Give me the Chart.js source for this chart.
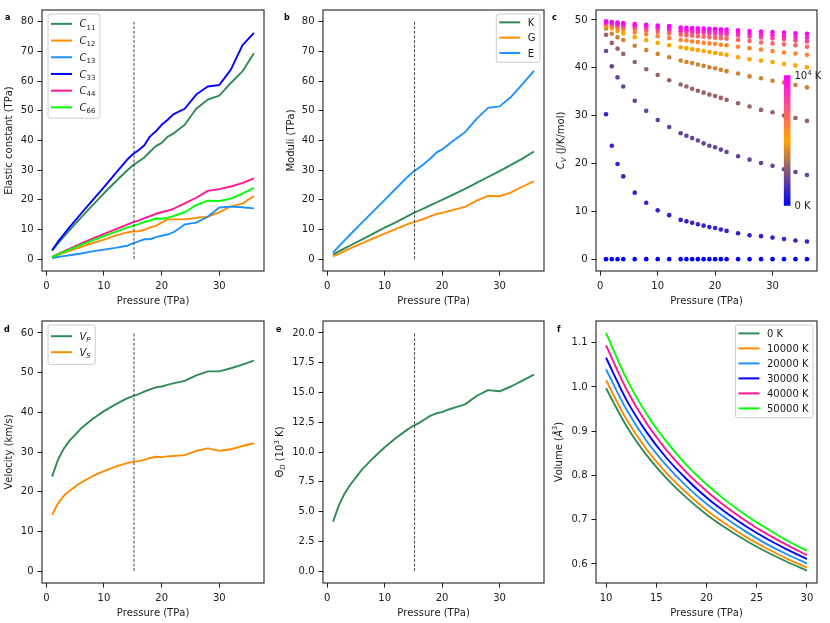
<!DOCTYPE html>
<html>
<head>
<meta charset="utf-8">
<script src="https://cdn.jsdelivr.net/npm/chart.js@4.4.1/dist/chart.umd.min.js"></script>
<style>
  body { margin: 0; background: #fff; width: 830px; height: 623px; position: relative; overflow: hidden; }
  canvas { position: absolute; }
  .lbl { position: absolute; font: bold 8px 'DejaVu Sans', sans-serif; line-height: 8px; color: #000; }
</style>
</head>
<body>
<canvas id="pa" width="270" height="311" style="left:0;top:0"></canvas>
<canvas id="pb" width="280" height="311" style="left:270px;top:0"></canvas>
<canvas id="pc" width="280" height="311" style="left:550px;top:0"></canvas>
<canvas id="pd" width="270" height="312" style="left:0;top:311px"></canvas>
<canvas id="pe" width="280" height="312" style="left:270px;top:311px"></canvas>
<canvas id="pf" width="280" height="312" style="left:550px;top:311px"></canvas>
<div class="lbl" style="left:5px;top:14px">a</div>
<div class="lbl" style="left:284px;top:14px">b</div>
<div class="lbl" style="left:552px;top:14px">c</div>
<div class="lbl" style="left:4px;top:326px">d</div>
<div class="lbl" style="left:276px;top:326px">e</div>
<div class="lbl" style="left:557px;top:326px">f</div>
<script>
// pressure grid (TPa) shared by panels a-e
const pressure = [1, 2, 3, 4, 6, 8, 10, 12, 14, 15, 16, 17, 18, 19, 20, 21, 22, 24, 26, 28, 30, 32, 34, 36];

// a: elastic constants (TPa)
const c11 = [2.8, 5.2, 7.5, 9.7, 14.0, 18.1, 22.2, 26.1, 29.9, 31.6, 32.9, 34.3, 36.3, 38.1, 39.2, 41.2, 42.3, 45.3, 50.7, 53.8, 55.1, 59.4, 63.3, 69.4];
const c12 = [0.7, 1.4, 2.1, 2.8, 4.1, 5.4, 6.6, 7.9, 9.0, 9.3, 9.4, 9.9, 10.7, 11.2, 12.3, 13.4, 13.4, 13.4, 13.9, 14.3, 15.8, 17.8, 18.7, 21.3];
const c13 = [0.4, 0.7, 1.0, 1.3, 1.9, 2.6, 3.2, 3.8, 4.5, 5.3, 6.0, 6.7, 6.7, 7.4, 7.9, 8.3, 9.0, 11.7, 12.3, 14.3, 17.4, 17.7, 17.5, 17.1];
const c33 = [3.1, 5.8, 8.3, 10.7, 15.3, 19.8, 24.3, 28.9, 33.5, 35.4, 36.7, 38.4, 41.4, 43.1, 45.3, 46.9, 48.8, 50.7, 55.5, 58.2, 58.7, 63.9, 72.1, 76.3];
const c44 = [0.8, 1.7, 2.6, 3.5, 5.2, 6.9, 8.5, 10.0, 11.6, 12.4, 13.0, 13.8, 14.5, 15.3, 15.8, 16.3, 16.9, 18.8, 20.7, 23.0, 23.6, 24.5, 25.6, 27.2];
const c66 = [0.7, 1.6, 2.4, 3.2, 4.8, 6.3, 7.8, 9.2, 10.6, 11.2, 11.8, 12.6, 13.0, 13.7, 13.6, 13.9, 14.5, 15.8, 18.2, 19.7, 19.6, 20.4, 22.1, 24.0];

// b: moduli (TPa)
const bulkK = [1.5, 2.6, 3.6, 4.6, 6.6, 8.6, 10.6, 12.5, 14.5, 15.5, 16.4, 17.3, 18.2, 19.1, 20.0, 20.9, 21.8, 23.7, 25.7, 27.7, 29.7, 31.8, 33.9, 36.3];
const shearG = [0.9, 1.8, 2.7, 3.6, 5.3, 7.0, 8.6, 10.2, 11.8, 12.5, 13.0, 13.7, 14.5, 15.2, 15.6, 16.1, 16.6, 17.6, 19.7, 21.3, 21.2, 22.5, 24.4, 26.3];
const youngE = [2.2, 4.3, 6.3, 8.3, 12.2, 16.1, 20.0, 23.9, 27.8, 29.5, 30.8, 32.3, 34.0, 35.9, 37.0, 38.5, 40.0, 42.8, 47.3, 51.0, 51.5, 54.7, 59.0, 63.5];

// c: heat capacity (J/K/mol), one row per temperature
const cvTemps = [0, 1000, 2000, 3000, 4000, 5000, 6000, 7000, 8000, 9000, 10000];
const cv0k = [0, 0, 0, 0, 0, 0, 0, 0, 0, 0, 0, 0, 0, 0, 0, 0, 0, 0, 0, 0, 0, 0, 0, 0];
const cv1k = [30.3, 23.7, 19.9, 17.3, 13.9, 11.8, 10.2, 9.2, 8.2, 7.9, 7.6, 7.3, 7.0, 6.7, 6.5, 6.2, 5.9, 5.4, 5.0, 4.8, 4.5, 4.2, 3.9, 3.7];
const cv2k = [43.5, 40.3, 38.0, 36.1, 33.1, 31.0, 29.1, 27.6, 26.3, 25.8, 25.3, 24.8, 24.2, 23.7, 23.4, 22.9, 22.4, 21.5, 20.8, 20.1, 19.5, 18.8, 18.2, 17.6];
const cv3k = [46.9, 45.2, 44.0, 42.9, 41.2, 39.7, 38.5, 37.4, 36.5, 36.1, 35.6, 35.2, 34.8, 34.4, 34.1, 33.7, 33.3, 32.6, 31.9, 31.2, 30.7, 30.0, 29.5, 28.9];
const cv4k = [48.2, 47.1, 46.4, 45.8, 44.6, 43.7, 42.9, 42.2, 41.5, 41.2, 41.0, 40.7, 40.4, 40.1, 39.9, 39.6, 39.3, 38.8, 38.2, 37.8, 37.3, 36.9, 36.4, 35.9];
const cv5k = [48.7, 48.2, 47.7, 47.2, 46.4, 45.8, 45.2, 44.7, 44.3, 44.1, 43.9, 43.7, 43.5, 43.3, 43.1, 42.9, 42.7, 42.2, 41.8, 41.5, 41.2, 40.8, 40.5, 40.1];
const cv6k = [48.95, 48.6, 48.3, 48.0, 47.4, 47.0, 46.6, 46.2, 45.8, 45.7, 45.5, 45.4, 45.2, 45.1, 45.0, 44.8, 44.7, 44.4, 44.1, 43.8, 43.5, 43.2, 43.0, 42.7];
const cv7k = [49.2, 48.95, 48.7, 48.5, 48.1, 47.8, 47.5, 47.2, 46.9, 46.8, 46.7, 46.6, 46.5, 46.4, 46.3, 46.2, 46.1, 45.8, 45.6, 45.3, 45.1, 44.9, 44.7, 44.4];
const cv8k = [49.4, 49.2, 49.0, 48.85, 48.6, 48.3, 48.1, 47.85, 47.6, 47.5, 47.45, 47.35, 47.3, 47.2, 47.1, 47.0, 46.95, 46.75, 46.55, 46.35, 46.15, 45.95, 45.7, 45.5];
const cv9k = [49.55, 49.4, 49.25, 49.1, 48.9, 48.7, 48.5, 48.2, 47.9, 47.85, 47.8, 47.75, 47.7, 47.65, 47.6, 47.5, 47.45, 47.3, 47.1, 46.95, 46.8, 46.6, 46.45, 46.3];
const cv10k = [49.7, 49.55, 49.45, 49.35, 49.15, 49.0, 48.85, 48.7, 48.4, 48.35, 48.3, 48.25, 48.2, 48.15, 48.1, 48.05, 48.0, 47.85, 47.7, 47.6, 47.45, 47.35, 47.2, 47.1];

// d: sound velocities (km/s)
const vP = [23.8, 28.0, 30.8, 32.8, 35.9, 38.3, 40.3, 42.0, 43.5, 44.1, 44.6, 45.2, 45.8, 46.3, 46.5, 46.9, 47.3, 47.9, 49.3, 50.3, 50.3, 51.1, 52.0, 53.0];
const vS = [14.2, 17.0, 18.9, 20.2, 22.3, 23.9, 25.2, 26.3, 27.2, 27.5, 27.7, 28.0, 28.5, 28.8, 28.7, 28.9, 29.0, 29.2, 30.3, 30.9, 30.3, 30.7, 31.5, 32.2];

// e: Debye temperature (10^3 K)
const thetaD = [4.15, 5.5, 6.5, 7.25, 8.5, 9.5, 10.4, 11.2, 11.9, 12.2, 12.45, 12.75, 13.05, 13.25, 13.35, 13.55, 13.7, 14.0, 14.7, 15.2, 15.1, 15.5, 16.0, 16.5];

// f: volume (A^3) vs pressure at several temperatures
const volPressure = [10, 12, 14, 16, 18, 20, 22, 24, 26, 28, 30];
const vol0k = [0.997, 0.913, 0.847, 0.794, 0.750, 0.712, 0.680, 0.652, 0.627, 0.605, 0.585];
const vol10k = [1.015, 0.928, 0.860, 0.806, 0.761, 0.722, 0.689, 0.660, 0.635, 0.612, 0.592];
const vol20k = [1.040, 0.950, 0.879, 0.823, 0.776, 0.736, 0.702, 0.672, 0.645, 0.622, 0.601];
const vol30k = [1.066, 0.972, 0.899, 0.840, 0.792, 0.750, 0.715, 0.684, 0.657, 0.633, 0.611];
const vol40k = [1.094, 0.996, 0.919, 0.858, 0.807, 0.765, 0.728, 0.696, 0.668, 0.643, 0.620];
const vol50k = [1.122, 1.020, 0.940, 0.877, 0.824, 0.780, 0.742, 0.709, 0.680, 0.653, 0.630];

// transition pressure marker
const markerP = [15.2, 15.2];
const markerA = [0, 80];
const markerD = [0, 60];
const markerE = [0, 20];

// tick labels
const ticksP = [0, 10, 20, 30];
const ticksA = [0, 10, 20, 30, 40, 50, 60, 70, 80];
const ticksC = [0, 10, 20, 30, 40, 50];
const ticksD = [0, 10, 20, 30, 40, 50, 60];
const ticksE = [0, 2.5, 5, 7.5, 10, 12.5, 15, 17.5, 20];
const ticksFx = [10, 15, 20, 25, 30];
const ticksFy = [0.6, 0.7, 0.8, 0.9, 1.0, 1.1];
const colorbarLabels = ['0 K', '10$^4$ K'];

const INK = '#1a1a1a';
const FAMILY = "'DejaVu Sans', sans-serif";
const SEAGREEN = '#2e8b57', ORANGE = '#ff8c00', DODGER = '#1e90ff', BLUE = '#0000ff', PINK = '#ff1493', LIME = '#00ff00';
const CMAP = [[0, 0, 255], [255, 165, 0], [255, 0, 255]];

function cmap(t) {
  const s = Math.min(t, 0.9999) * 2, i = Math.floor(s), f = s - i;
  const c = CMAP[i].map((v, k) => Math.round(v + (CMAP[i + 1][k] - v) * f));
  return `rgb(${c[0]},${c[1]},${c[2]})`;
}

function pts(xs, ys) { return xs.map((x, i) => ({x: x, y: ys[i]})); }

// tiny mathtext: $..$ italic letters, _x / _{..} subscript, ^x / ^{..} superscript
function parseRich(s) {
  const out = [];
  let math = false, i = 0;
  while (i < s.length) {
    const ch = s[i];
    if (ch === '$') { math = !math; i++; continue; }
    if (math && (ch === '_' || ch === '^')) {
      let tok;
      if (s[i + 1] === '{') { const j = s.indexOf('}', i + 2); tok = s.slice(i + 2, j); i = j + 1; }
      else { tok = s[i + 1]; i += 2; }
      out.push({t: tok, shift: ch === '_' ? 1 : -1, it: /[A-Za-z]/.test(tok)});
      continue;
    }
    out.push({t: ch, shift: 0, it: math && /[A-Za-zÅ]/.test(ch)});
    i++;
  }
  return out;
}

function richFont(seg, size) {
  return (seg.it ? 'italic ' : '') + (seg.shift ? size * 0.7 : size) + 'px ' + FAMILY;
}

function measureRich(ctx, text, size) {
  let w = 0;
  parseRich(text).forEach(s => { ctx.font = richFont(s, size); w += ctx.measureText(s.t).width; });
  return w;
}

function drawRich(ctx, text, x, y, size, align) {
  const segs = parseRich(text);
  let w = 0;
  segs.forEach(s => { ctx.font = richFont(s, size); s.w = ctx.measureText(s.t).width; w += s.w; });
  let cx = align === 'center' ? x - w / 2 : x;
  const base = y + size * 0.36;
  ctx.textAlign = 'left';
  ctx.textBaseline = 'alphabetic';
  ctx.fillStyle = INK;
  segs.forEach(s => {
    ctx.font = richFont(s, size);
    const dy = s.shift === 1 ? size * 0.22 : s.shift === -1 ? -size * 0.42 : 0;
    ctx.fillText(s.t, cx, base + dy);
    cx += s.w;
  });
}

function drawLegend(ctx, chart, lg) {
  const a = chart.chartArea;
  const items = chart.data.datasets.filter(d => d.label);
  const textW = Math.max(...items.map(d => measureRich(ctx, d.label, 10)));
  const w = 3.5 + 21 + 7.5 + textW + 4;
  const h = items.length * lg.rowH + 2 * lg.padY;
  const x = lg.side === 'left' ? a.left + 5.5 : a.right - 4.5 - w;
  const y = a.top + 3.5;
  ctx.beginPath();
  ctx.roundRect(x + 0.5, y + 0.5, w, h, 2);
  ctx.fillStyle = 'rgba(255,255,255,0.8)';
  ctx.fill();
  ctx.strokeStyle = '#cccccc';
  ctx.lineWidth = 1;
  ctx.stroke();
  items.forEach((d, i) => {
    const cy = y + lg.padY + lg.rowH * (i + 0.5);
    ctx.beginPath();
    ctx.moveTo(x + 3.5, cy);
    ctx.lineTo(x + 24.5, cy);
    ctx.strokeStyle = d.borderColor;
    ctx.lineWidth = 2;
    ctx.stroke();
    drawRich(ctx, d.label, x + 32, cy, 10, 'left');
  });
}

function drawColorbar(ctx, a, cb) {
  const aw = a.right - a.left, ah = a.bottom - a.top;
  const x0 = a.left + cb.left * aw, w = cb.width * aw;
  const yTop = a.bottom - (cb.bottom + cb.height) * ah, yBot = a.bottom - cb.bottom * ah;
  const g = ctx.createLinearGradient(0, yBot, 0, yTop);
  g.addColorStop(0, cmap(0));
  g.addColorStop(0.5, cmap(0.5));
  g.addColorStop(1, 'rgb(255,0,255)');
  ctx.fillStyle = g;
  ctx.fillRect(x0, yTop, w, yBot - yTop);
  drawRich(ctx, cb.labels[0], x0 + w + 4, yBot, 10, 'left');
  drawRich(ctx, cb.labels[1], x0 + w + 4, yTop, 10, 'left');
}

const mplPlugin = {
  id: 'mpl',
  afterDatasetsDraw(chart, args, opts) {
    const ctx = chart.ctx, a = chart.chartArea;
    ctx.save();
    if (opts.colorbar) drawColorbar(ctx, a, opts.colorbar);
    if (opts.legend) drawLegend(ctx, chart, opts.legend);
    ctx.strokeStyle = '#222';
    ctx.lineWidth = 1.1;
    ctx.strokeRect(a.left, a.top, a.right - a.left, a.bottom - a.top);
    drawRich(ctx, opts.xTitle, (a.left + a.right) / 2, a.bottom + 29, 10, 'center');
    ctx.translate(a.left - opts.yOff, (a.top + a.bottom) / 2);
    ctx.rotate(-Math.PI / 2);
    drawRich(ctx, opts.yTitle, 0, 0, 10, 'center');
    ctx.restore();
  }
};

function scale(min, max, ticks, fmt, horizontal, size) {
  return {
    type: 'linear', min: min, max: max, bounds: 'data',
    afterBuildTicks: s => { s.ticks = ticks.map(v => ({value: v})); },
    afterFit: s => { if (horizontal) s.height = size; else s.width = size; },
    grid: {drawOnChartArea: false, drawTicks: true, tickLength: 4.5, tickWidth: 1, tickColor: INK},
    border: {display: false},
    ticks: {color: INK, font: {size: 10, family: FAMILY}, padding: horizontal ? 5 : 4,
            autoSkip: false, maxRotation: 0, callback: v => fmt(v)}
  };
}

function line(label, xs, ys, color) {
  return {label: label, data: pts(xs, ys), borderColor: color, backgroundColor: color, borderWidth: 1.9,
          pointRadius: 0, tension: 0, fill: false, borderJoinStyle: 'round'};
}

function marker(ys) {
  return {data: pts(markerP, ys), borderColor: '#333', borderWidth: 0.9, borderDash: [3, 1.6],
          pointRadius: 0, fill: false, order: -1};
}

function build(id, cfg) {
  cfg.datasets.forEach((d, i) => { if (d.order === undefined) d.order = cfg.datasets.length - i; });
  new Chart(document.getElementById(id), {
    type: cfg.type || 'line',
    data: {datasets: cfg.datasets},
    plugins: [mplPlugin],
    options: {
      responsive: false, animation: false, events: [],
      layout: {autoPadding: false, padding: {left: 0, top: 4, right: cfg.padR, bottom: 0}},
      plugins: {legend: {display: false}, tooltip: {enabled: false},
                mpl: {xTitle: cfg.xTitle || 'Pressure (TPa)', yTitle: cfg.yTitle, yOff: cfg.yOff,
                      legend: cfg.legend, colorbar: cfg.colorbar}},
      scales: {x: scale(cfg.x[0], cfg.x[1], cfg.x[2], cfg.x[3], true, 40),
               y: scale(cfg.y[0], cfg.y[1], cfg.y[2], cfg.y[3], false, cfg.yW)}
    }
  });
}

const int = v => String(v);
const one = v => v.toFixed(1);
const xP = [-0.75, 37.75, ticksP, int];

build('pa', {
  padR: 6, yW: 42, yOff: 33.5, yTitle: 'Elastic constant (TPa)',
  legend: {side: 'left', rowH: 16.7, padY: 2},
  x: xP, y: [-4, 84, ticksA, int],
  datasets: [line('$C_{11}$', pressure, c11, SEAGREEN), line('$C_{12}$', pressure, c12, ORANGE),
             line('$C_{13}$', pressure, c13, DODGER), line('$C_{33}$', pressure, c33, BLUE),
             line('$C_{44}$', pressure, c44, PINK), line('$C_{66}$', pressure, c66, LIME), marker(markerA)]
});

build('pb', {
  padR: 6, yW: 53, yOff: 33, yTitle: 'Moduli (TPa)',
  legend: {side: 'right', rowH: 15.3, padY: 1.2},
  x: xP, y: [-4, 84, ticksA, int],
  datasets: [line('K', pressure, bulkK, SEAGREEN), line('G', pressure, shearG, ORANGE),
             line('E', pressure, youngE, DODGER), marker(markerA)]
});

const cvRows = [cv0k, cv1k, cv2k, cv3k, cv4k, cv5k, cv6k, cv7k, cv8k, cv9k, cv10k];
build('pc', {
  type: 'scatter', padR: 13, yW: 46, yOff: 35.5, yTitle: '$C_V$ (J/K/mol)',
  colorbar: {left: 0.85, bottom: 0.25, width: 0.03, height: 0.5, labels: colorbarLabels},
  x: xP, y: [-2.48, 52.08, ticksC, int],
  datasets: cvRows.map((row, i) => ({
    data: pts(pressure, row), showLine: false, pointRadius: 2.3, pointBorderWidth: 0,
    pointBackgroundColor: cmap(cvTemps[i] / 10000), order: cvRows.length - i
  }))
});

build('pd', {
  padR: 6, yW: 42, yOff: 33.5, yTitle: 'Velocity (km/s)',
  legend: {side: 'left', rowH: 16, padY: 3.7},
  x: xP, y: [-3, 63, ticksD, int],
  datasets: [line('$V_P$', pressure, vP, SEAGREEN), line('$V_S$', pressure, vS, ORANGE), marker(markerD)]
});

build('pe', {
  padR: 6, yW: 53, yOff: 43.5, yTitle: '$Θ_D$ (10$^3$ K)',
  x: xP, y: [-1, 21, ticksE, one],
  datasets: [line('', pressure, thetaD, SEAGREEN), marker(markerE)]
});

const volRows = [vol0k, vol10k, vol20k, vol30k, vol40k, vol50k];
const volNames = ['0 K', '10000 K', '20000 K', '30000 K', '40000 K', '50000 K'];
const volColors = [SEAGREEN, ORANGE, DODGER, BLUE, PINK, LIME];
build('pf', {
  padR: 13, yW: 46, yOff: 38, yTitle: 'Volume ($Å^3$)',
  legend: {side: 'right', rowH: 15, padY: 1.4},
  x: [9, 31, ticksFx, int], y: [0.557, 1.149, ticksFy, one],
  datasets: volRows.map((row, i) => Object.assign(line(volNames[i], volPressure, row, volColors[i]),
                                                  {cubicInterpolationMode: 'monotone'}))
});
</script>
</body>
</html>
